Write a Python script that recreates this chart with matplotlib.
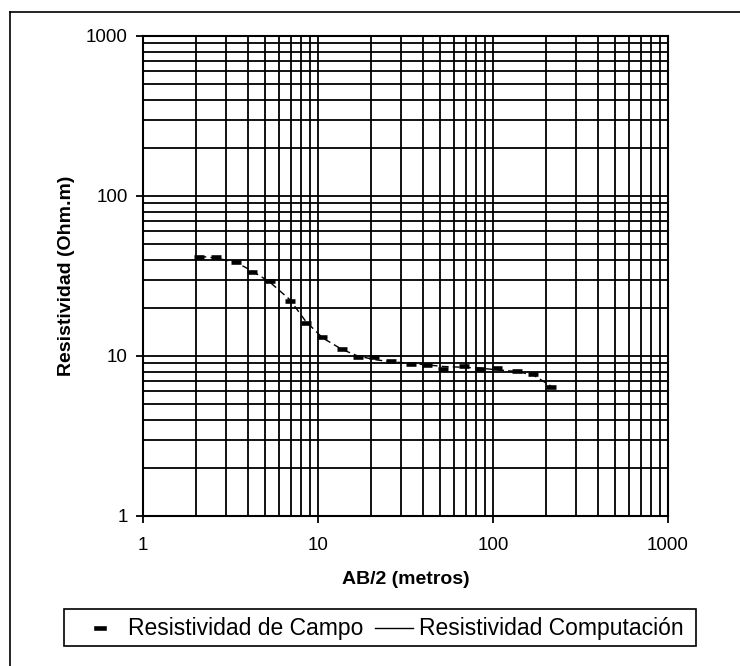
import matplotlib
matplotlib.use("Agg")
import matplotlib.pyplot as plt
from matplotlib.ticker import LogLocator, FixedLocator, NullFormatter
from matplotlib.patches import Rectangle

plt.rcParams['font.family'] = ['Liberation Sans', 'DejaVu Sans']

ab2 = [2.1, 2.6, 3.4, 4.2, 5.3, 6.9, 8.5, 10.6, 13.7, 16.9, 21, 26, 34, 42,
       52, 68, 84, 105, 137, 170, 214]
rho_campo = [41.8, 41.8, 38.8, 33.6, 29.5, 22.1, 16.0, 13.1, 11.0, 9.8, 9.8,
             9.3, 8.9, 8.8, 8.3, 8.7, 8.3, 8.45, 8.1, 7.7, 6.4]
rho_comp = [42.0, 41.0, 38.5, 34.0, 29.0, 22.5, 16.5, 13.0, 11.0, 10.0, 9.5,
            9.2, 9.0, 8.8, 8.6, 8.5, 8.4, 8.2, 8.0, 7.6, 6.5]
ticks = [1, 10, 100, 1000]
tick_labels = ['1', '10', '100', '1000']
legend_labels = ['Resistividad de Campo', 'Resistividad Computación']

W, H = 740, 666
fig = plt.figure(figsize=(W / 100, H / 100), dpi=100)
ax = fig.add_axes([143 / W, 1 - 516 / H, 525 / W, 480 / H])
ax.set_xscale('log')
ax.set_yscale('log')
ax.set_xlim(1, 1000)
ax.set_ylim(1, 1000)

ax.xaxis.set_major_locator(FixedLocator(ticks))
ax.yaxis.set_major_locator(FixedLocator(ticks))
ax.set_xticklabels(tick_labels)
ax.set_yticklabels(tick_labels)
ax.xaxis.set_minor_locator(LogLocator(base=10, subs=range(2, 10)))
ax.yaxis.set_minor_locator(LogLocator(base=10, subs=range(2, 10)))
ax.xaxis.set_minor_formatter(NullFormatter())
ax.yaxis.set_minor_formatter(NullFormatter())
ax.grid(True, which='both', color='black', linewidth=1.3)
ax.tick_params(which='major', length=5, width=1.3, direction='out',
               labelsize=13.5)
ax.tick_params(axis='y', which='major', pad=6)
ax.tick_params(axis='x', which='major', pad=10)
ax.tick_params(which='minor', length=0)
for s in ax.spines.values():
    s.set_linewidth(1.5)

ax.plot(ab2, rho_comp, color='black', linewidth=1.0, linestyle=(0, (5, 3)),
        zorder=3)
ax.plot(ab2, rho_campo, linestyle='none', marker='_', markersize=6.5,
        markeredgewidth=3.3, color='black', zorder=4)

ax.set_xlabel('AB/2 (metros)', fontsize=14, fontweight='bold', labelpad=12)
ax.set_ylabel('Resistividad (Ohm.m)', fontsize=14, fontweight='bold',
              labelpad=8)

# legend (drawn manually in figure pixels)
fig.canvas.draw()
r = fig.canvas.get_renderer()
ly0, ly1 = 609, 646
yc = 1 - 628 / H
fig.lines.append(plt.Line2D([96 / W, 104 / W], [yc, yc], color='black',
                            linewidth=3.3, transform=fig.transFigure))
t1 = fig.text(128 / W, yc, legend_labels[0], fontsize=16.5, va='center')
x1 = t1.get_window_extent(r).x1
fig.lines.append(plt.Line2D([(x1 + 12) / W, (x1 + 50) / W], [yc, yc],
                            color='black', linewidth=1.0,
                            transform=fig.transFigure))
t2 = fig.text((x1 + 56) / W, yc, legend_labels[1], fontsize=16.5,
              va='center')
x2 = t2.get_window_extent(r).x1
lx0, lx1 = 64, x2 + 12
fig.patches.append(Rectangle((lx0 / W, 1 - ly1 / H), (lx1 - lx0) / W,
                             (ly1 - ly0) / H, transform=fig.transFigure,
                             fill=False, edgecolor='black', linewidth=1.2))

# outer frame (top and left edges visible)
fig.lines.append(plt.Line2D([10 / W, 1.0], [1 - 12 / H, 1 - 12 / H],
                            color='black', linewidth=1.2,
                            transform=fig.transFigure))
fig.lines.append(plt.Line2D([10 / W, 10 / W], [1 - 12 / H, 0.0],
                            color='black', linewidth=1.2,
                            transform=fig.transFigure))

fig.savefig('out.png', dpi=100)
